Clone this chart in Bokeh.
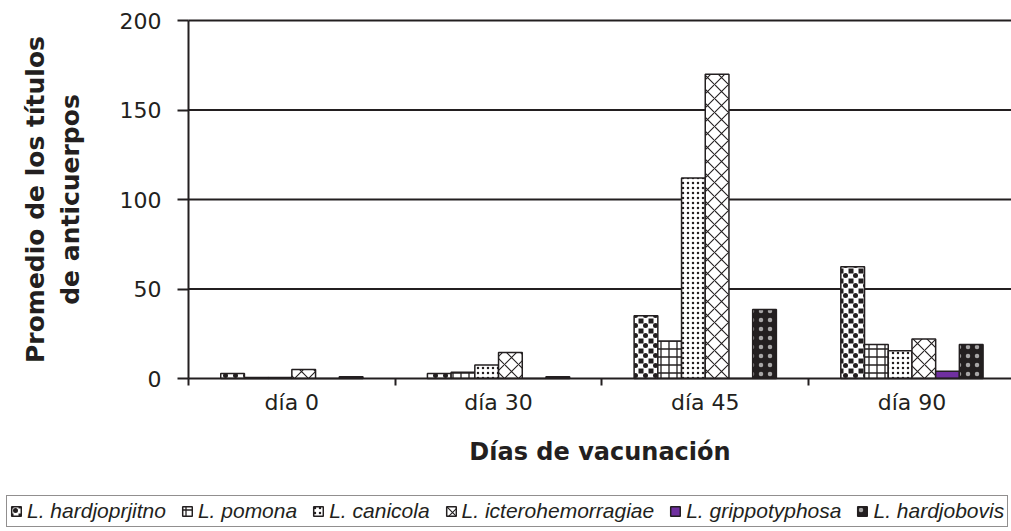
from bokeh.plotting import figure
from bokeh.models import (ColumnDataSource, Range1d, FixedTicker, Legend,
                          LegendItem)
from bokeh.transform import dodge
from bokeh.embed import file_html
from bokeh.resources import INLINE

# ---------------- data ----------------
days = ["día 0", "día 30", "día 45", "día 90"]
series = ["L. hardjoprjitno", "L. pomona", "L. canicola",
          "L. icterohemorragiae", "L. grippotyphosa", "L. hardjobovis"]
hardjoprjitno = [2.8, 2.8, 35.0, 62.5]
pomona = [0.5, 3.5, 21.0, 19.0]
canicola = [0.5, 7.5, 112.0, 15.5]
icterohemorragiae = [5.0, 14.5, 170.0, 22.0]
grippotyphosa = [0.0, 0.0, 0.0, 4.0]
hardjobovis = [1.0, 1.0, 38.5, 19.0]
y_ticks = [0, 50, 100, 150, 200]

# ---------------- style ----------------
TEXT = "#231f20"
BAR_W = 0.1147
PX_PER_GROUP = 206.7      # horizontal pixels per day group
PX_PER_UNIT_Y = 1.79      # vertical pixels per titre unit
W, H = 1011, 531
AXIS_X_PX, AXIS_Y_PX = 188, 378   # where the axes cross (canvas pixels)
TOP_PX = 20                        # pixel row of the value 200

NOFILL = dict(fill_alpha=0)
# each series: list of layers (drawn bottom to top); last layer carries the outline
styles = [
    [  # checkerboard = black base, white stripes both ways, black centre dots
        dict(fill_color=TEXT, hatch_pattern="-", hatch_color="white",
             hatch_scale=10, hatch_weight=5),
        dict(NOFILL, hatch_pattern="|", hatch_color="white",
             hatch_scale=10, hatch_weight=5),
        dict(NOFILL, hatch_pattern=".", hatch_color=TEXT,
             hatch_scale=10, hatch_weight=0.6),
    ],
    [dict(fill_color="white", hatch_pattern="+", hatch_color=TEXT,
          hatch_scale=8, hatch_weight=1.3)],
    [dict(fill_color="white", hatch_pattern=".", hatch_color=TEXT,
          hatch_scale=5, hatch_weight=1.8)],
    [dict(fill_color="white", hatch_pattern="x", hatch_color=TEXT,
          hatch_scale=14, hatch_weight=1.1)],
    [dict(fill_color="#7030A0")],
    [dict(fill_color=TEXT, hatch_pattern=".", hatch_color="white",
          hatch_scale=9, hatch_weight=0.1, hatch_alpha=0.6)],
]

src = ColumnDataSource(dict(
    pos=[i + 0.5 for i in range(len(days))],
    day=days,
    hardjoprjitno=hardjoprjitno,
    pomona=pomona,
    canicola=canicola,
    icterohemorragiae=icterohemorragiae,
    grippotyphosa=grippotyphosa,
    hardjobovis=hardjobovis,
))
keys = ["hardjoprjitno", "pomona", "canicola", "icterohemorragiae",
        "grippotyphosa", "hardjobovis"]

# frame covers the whole canvas; axes are pinned at the data origin
x_end = (W - AXIS_X_PX) / PX_PER_GROUP
x_start = -AXIS_X_PX / PX_PER_GROUP
y_max = y_ticks[-1] + TOP_PX / PX_PER_UNIT_Y
y_min = -(H - AXIS_Y_PX) / PX_PER_UNIT_Y

p = figure(width=W, height=H,
           x_range=Range1d(x_start, x_end), y_range=Range1d(y_min, y_max),
           output_backend="svg", toolbar_location=None,
           min_border=0)
p.outline_line_color = None
p.background_fill_color = "white"

# horizontal grid lines, from the y tick values
grid_vals = y_ticks[1:]
p.segment(x0=[0] * len(grid_vals), x1=[x_end] * len(grid_vals),
          y0=grid_vals, y1=grid_vals, line_color=TEXT, line_width=2)

series_renderers = []
n = len(keys)
for j, key in enumerate(keys):
    layers = []
    for k, st in enumerate(styles[j]):
        last = k == len(styles[j]) - 1
        r = p.vbar(x=dodge("pos", (j - (n - 1) / 2) * BAR_W), top=key, bottom=0,
                   width=BAR_W, source=src,
                   line_color=TEXT if last else None, line_width=1.5, **st)
        layers.append(r)
    series_renderers.append(layers)

p.xgrid.visible = False
p.ygrid.visible = False

# x axis
p.xaxis.fixed_location = 0
p.xaxis.bounds = (0, x_end)
p.xaxis.ticker = FixedTicker(ticks=[i + 0.5 for i in range(len(days))],
                             minor_ticks=list(range(len(days))))
p.xaxis.major_label_overrides = {i + 0.5: d for i, d in enumerate(days)}
p.xaxis.major_tick_line_color = None
p.xaxis.major_tick_out = 7
p.xaxis.major_tick_in = 0
p.xaxis.minor_tick_line_color = TEXT
p.xaxis.minor_tick_line_width = 2
p.xaxis.minor_tick_out = 7
p.xaxis.minor_tick_in = 0
p.xaxis.major_label_standoff = 4
p.xaxis.axis_label = "Días de vacunación"
p.xaxis.axis_label_standoff = 20

# y axis
p.yaxis.fixed_location = 0
p.yaxis.bounds = (0, y_ticks[-1])
p.yaxis.ticker = FixedTicker(ticks=y_ticks, minor_ticks=[])
p.yaxis.major_tick_out = 11
p.yaxis.major_tick_in = 0
p.yaxis.major_label_standoff = 16
p.yaxis.axis_label = "Promedio de los títulos\nde anticuerpos"
p.yaxis.axis_label_standoff = 32

for ax in (p.xaxis, p.yaxis):
    ax.axis_line_color = TEXT
    ax.axis_line_width = 2
    ax.major_tick_line_width = 2
    ax.major_label_text_font = "DejaVu Sans"
    ax.major_label_text_font_size = "22px"
    ax.major_label_text_color = TEXT
    ax.axis_label_text_font = "DejaVu Sans"
    ax.axis_label_text_font_style = "bold"
    ax.axis_label_text_color = TEXT
p.yaxis.major_tick_line_color = TEXT
p.xaxis.axis_label_text_font_size = "24px"
p.yaxis.axis_label_text_font_size = "25px"

legend = Legend(
    items=[LegendItem(label=s, renderers=rs)
           for s, rs in zip(series, series_renderers)],
    orientation="horizontal", location=(6, 4), margin=0, padding=3,
    spacing=15, label_standoff=5, glyph_width=12, glyph_height=12,
    label_text_font="Liberation Sans", label_text_font_style="italic",
    label_text_font_size="21px", label_text_color=TEXT, label_height=20,
    border_line_color=TEXT, border_line_width=1.5,
    background_fill_color="white", background_fill_alpha=1.0,
)
p.add_layout(legend)

open("out.html", "w").write(file_html(p, INLINE))
